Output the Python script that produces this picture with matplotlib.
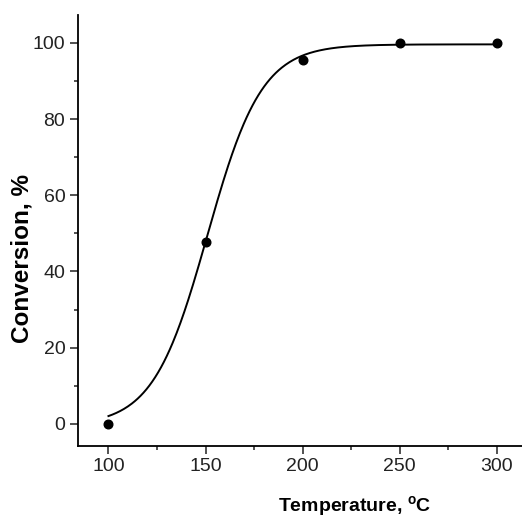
import numpy as np
import matplotlib.pyplot as plt
from matplotlib.ticker import MultipleLocator

# measured conversion vs temperature
temperature = np.array([100, 150, 200, 250, 300])
conversion = np.array([0.0, 47.8, 95.5, 100.0, 100.0])

# Boltzmann fit parameters: bottom, top, centre, width
fit_a1 = -0.5
fit_a2 = 99.6
fit_x0 = 151.0
fit_dx = 14.0

xf = np.linspace(temperature.min(), temperature.max(), 400)
yf = fit_a2 + (fit_a1 - fit_a2) / (1 + np.exp((xf - fit_x0) / fit_dx))

plt.rcParams['font.family'] = ['Liberation Sans', 'DejaVu Sans']

fig = plt.figure(figsize=(5.22, 5.18), dpi=100)
ax = fig.add_axes([0.149, 0.139, 0.851, 0.832])

ax.plot(xf, yf, color='black', lw=1.4)
ax.plot(temperature, conversion, 'o', color='black', ms=6.2)

ax.set_xlim(84.2, 313)
ax.set_ylim(-5.8, 107.3)
ax.xaxis.set_major_locator(MultipleLocator(50))
ax.xaxis.set_minor_locator(MultipleLocator(25))
ax.yaxis.set_major_locator(MultipleLocator(20))
ax.yaxis.set_minor_locator(MultipleLocator(10))
ax.tick_params(which='major', direction='out', length=6, width=1.1,
               labelsize=14, pad=3, colors='#222222')
ax.tick_params(which='minor', direction='out', length=3.2, width=1.1, color='#222222')
for side in ('top', 'right'):
    ax.spines[side].set_visible(False)
for side in ('left', 'bottom'):
    ax.spines[side].set_linewidth(1.3)

ax.set_ylabel('Conversion, %', fontsize=17.5, fontweight='bold', va='center')
ax.yaxis.set_label_coords(-0.126, 0.434)
ax.set_xlabel('Temperature, $\\mathregular{^{o}}$C', fontsize=14, fontweight='bold')
ax.xaxis.set_label_coords(0.624, -0.112)

fig.savefig('out.png', dpi=100)
